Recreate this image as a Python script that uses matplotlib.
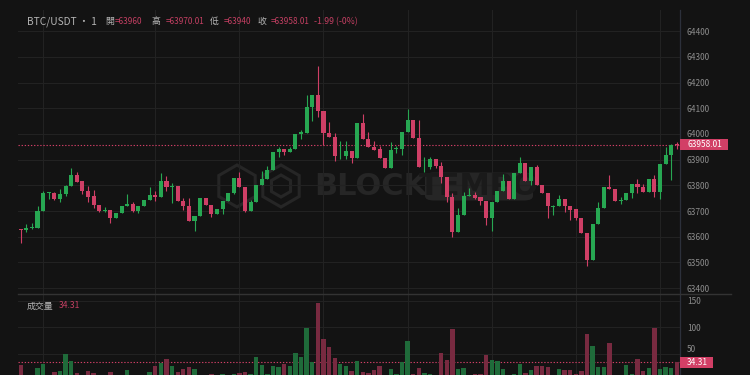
import matplotlib
matplotlib.use("Agg")
import matplotlib.pyplot as plt
from matplotlib.lines import Line2D
from matplotlib.patches import Polygon, Rectangle, FancyBboxPatch
import numpy as np

plt.rcParams["font.family"] = ["Noto Sans CJK TC", "DejaVu Sans"]

# ----------------------------
# Data: BTC/USDT 1-minute candles
# ----------------------------
opens = [
    63630, 63627, 63634, 63636, 63702, 63772, 63772, 63747, 63766, 63798,
    63840, 63816, 63778, 63758, 63725, 63699, 63703, 63674, 63691, 63720,
    63728, 63700, 63721, 63743, 63762, 63754, 63817, 63795, 63797, 63739,
    63720, 63660, 63682, 63750, 63725, 63689, 63710, 63741, 63772, 63830,
    63795, 63699, 63734, 63802, 63825, 63860, 63931, 63941, 63929, 63943,
    64000, 64005, 64106, 64151, 64091, 64003, 63990, 63925, 63914, 63935,
    63905, 64042, 63981, 63951, 63940, 63907, 63867, 63940, 63942, 64009,
    64054, 63986, 63870, 63873, 63902, 63877, 63832, 63755, 63620, 63685,
    63757, 63764, 63754, 63741, 63674, 63737, 63778, 63817, 63747, 63847,
    63886, 63818, 63873, 63803, 63769, 63716, 63720, 63747, 63720, 63707,
    63674, 63616, 63510, 63650, 63711, 63793, 63786, 63739, 63743, 63772,
    63804, 63795, 63773, 63826, 63773, 63882, 63918, 63960,
]
highs = [
    63632, 63650, 63653, 63721, 63779, 63775, 63774, 63785, 63802, 63869,
    63851, 63816, 63798, 63782, 63725, 63715, 63703, 63691, 63720, 63765,
    63735, 63721, 63743, 63793, 63779, 63849, 63837, 63808, 63797, 63752,
    63752, 63682, 63750, 63752, 63725, 63710, 63741, 63772, 63830, 63851,
    63795, 63743, 63802, 63856, 63876, 63931, 63948, 63941, 63948, 64000,
    64014, 64151, 64153, 64265, 64091, 64048, 64003, 63973, 63973, 63935,
    64042, 64078, 64007, 63973, 63953, 63907, 63968, 63952, 64009, 64097,
    64054, 64054, 63909, 63909, 63902, 63891, 63832, 63769, 63713, 63773,
    63789, 63773, 63754, 63741, 63737, 63778, 63843, 63817, 63847, 63909,
    63886, 63873, 63878, 63803, 63769, 63724, 63764, 63747, 63720, 63709,
    63674, 63616, 63650, 63734, 63793, 63839, 63786, 63756, 63772, 63804,
    63824, 63804, 63826, 63840, 63882, 63948, 63960, 63970.01,
]
lows = [
    63575, 63619, 63629, 63636, 63702, 63746, 63745, 63735, 63758, 63798,
    63812, 63765, 63737, 63713, 63697, 63698, 63655, 63674, 63691, 63720,
    63697, 63691, 63721, 63743, 63739, 63754, 63779, 63733, 63739, 63704,
    63660, 63623, 63682, 63725, 63678, 63689, 63689, 63741, 63765, 63795,
    63697, 63699, 63734, 63802, 63825, 63860, 63912, 63918, 63929, 63943,
    63982, 64005, 64051, 64067, 63957, 63987, 63895, 63902, 63902, 63888,
    63905, 63981, 63951, 63938, 63907, 63867, 63867, 63925, 63918, 64009,
    63986, 63873, 63853, 63864, 63869, 63811, 63737, 63598, 63620, 63685,
    63757, 63746, 63724, 63646, 63624, 63737, 63778, 63747, 63747, 63847,
    63818, 63802, 63802, 63769, 63674, 63685, 63720, 63698, 63665, 63665,
    63616, 63488, 63510, 63650, 63711, 63786, 63739, 63727, 63743, 63752,
    63772, 63773, 63773, 63756, 63748, 63882, 63821, 63940,
]
closes = [
    63625, 63636, 63638, 63702, 63772, 63774, 63747, 63766, 63798, 63840,
    63814, 63778, 63756, 63724, 63699, 63704, 63674, 63691, 63720, 63728,
    63700, 63721, 63743, 63763, 63754, 63817, 63795, 63797, 63739, 63721,
    63660, 63682, 63750, 63725, 63689, 63710, 63741, 63772, 63830, 63795,
    63699, 63734, 63802, 63825, 63860, 63931, 63940, 63930, 63943, 64000,
    64009, 64106, 64151, 64091, 64003, 63987, 63914, 63928, 63935, 63905,
    64042, 63981, 63951, 63938, 63907, 63867, 63938, 63944, 64009, 64054,
    63986, 63873, 63873, 63902, 63877, 63832, 63755, 63620, 63685, 63757,
    63764, 63752, 63739, 63674, 63737, 63778, 63817, 63747, 63847, 63886,
    63818, 63873, 63802, 63769, 63720, 63720, 63747, 63720, 63704, 63674,
    63616, 63510, 63650, 63711, 63793, 63786, 63739, 63743, 63772, 63804,
    63793, 63773, 63826, 63773, 63882, 63918, 63957, 63958.01,
]
volumes = [
    29.5, 7, 6, 24.4, 30.7, 8, 16.3, 18.2, 49.5, 36.4,
    13.9, 9, 18.8, 15, 8, 5, 15.7, 9, 7, 20,
    8, 6, 9, 15.7, 27, 33.8, 40.7, 28.1, 16.3, 22,
    25.7, 22, 10, 8, 13.2, 9, 13.2, 7, 13.2, 15,
    16.3, 12.6, 44.5, 30, 13.2, 27.6, 25.1, 31.3, 27, 51.4,
    45, 98.3, 34.5, 146.3, 78.2, 62.6, 43.2, 31.9, 27, 18.2,
    37.5, 17, 13.9, 20, 27.6, 8, 22, 12.6, 34.5, 74.5,
    12, 24.4, 14.4, 12, 8, 52.5, 38.8, 97.6, 21.4, 23.8,
    9, 12.5, 13, 47.6, 38.8, 36.9, 21.4, 9, 12.6, 30.7,
    15, 20, 27, 28.1, 25.7, 8, 21.4, 20, 20, 12.6,
    18.2, 87.6, 65.1, 26.3, 26.3, 71.3, 9, 8, 28.9, 12.6,
    40.1, 18.8, 23.8, 98.3, 21.4, 26.3, 23.8, 34.31,
]
price_ticks = [63400, 63500, 63600, 63700, 63800, 63900, 64000, 64100, 64200, 64300, 64400]
volume_ticks = [50, 100, 150]
time_grid = [4, 24, 39, 54, 69, 84, 99, 114]

last_price = 63958.01
last_volume = 34.31

# ----------------------------
# Styling
# ----------------------------
W, H = 750, 375
BG = "#131313"
GRID = "#222222"
UP = "#27a752"
DOWN = "#cf3f66"
VUP = "#1f6b3a"
VDOWN = "#782a40"
TXT = "#8c8c8c"
AXIS = "#2c303b"
TAG = "#d23f66"


def fx(x):
    return x / W


def fy(y):
    return 1 - y / H


def hexagon(cx, cy, r):
    ang = np.deg2rad(90 + 60 * np.arange(6))
    return [(fx(cx + r * np.cos(a)), fy(cy - r * np.sin(a))) for a in ang]


fig = plt.figure(figsize=(7.5, 3.75), dpi=100, facecolor=BG)
ax = fig.add_axes([fx(18), fy(294), fx(662), (294 - 10) / H])
vax = fig.add_axes([fx(18), 0, fx(662), (H - 294) / H], sharex=ax)

o = np.array(opens)
hi = np.array(highs)
lo = np.array(lows)
c = np.array(closes)
idx = np.arange(len(o))
up = c >= o
colors = np.where(up, UP, DOWN)
vcolors = np.where(up, VUP, VDOWN)

for a in (ax, vax):
    a.set_facecolor(BG)
    for s in a.spines.values():
        s.set_visible(False)
    a.spines["right"].set_visible(True)
    a.spines["right"].set_color(AXIS)
    a.spines["right"].set_linewidth(0.9)
    a.yaxis.tick_right()
    a.tick_params(axis="both", length=0, labelsize=6, labelcolor=TXT, pad=5)
    a.tick_params(axis="x", labelbottom=False)
    a.set_xticks(time_grid)
    a.grid(True, color=GRID, linewidth=0.8)
    a.set_axisbelow(True)

ax.set_xlim(-0.48, 117.58)
ax.set_ylim(63377.4, 64482.5)
ax.set_yticks(price_ticks)
ax.set_yticklabels([str(t) for t in price_ticks])

vax.set_ylim(10.7, 162.7)
vax.set_yticks(volume_ticks)
vax.set_yticklabels([str(t) for t in volume_ticks])
# nudge the "50" label up a touch so it clears the volume tag
vax.get_yticklabels()[0].set_va("bottom")

# watermark (behind candles)
wm = "#262626"
ax.text(fx(314), fy(187), "BLOCK", transform=fig.transFigure, fontsize=22,
        fontweight="bold", color=wm, family="DejaVu Sans", va="center",
        ha="left", zorder=0.5)
ax.add_patch(FancyBboxPatch((fx(428), fy(199)), fx(102), (199 - 174) / H,
                            boxstyle="round,pad=0.004,rounding_size=0.012",
                            transform=fig.transFigure, facecolor=wm,
                            edgecolor="none", zorder=0.5, clip_on=False))
ax.text(fx(479), fy(187), "TEMPO", transform=fig.transFigure, fontsize=22,
        fontweight="bold", color="#1a1a1a", family="DejaVu Sans",
        va="center", ha="center", zorder=0.6)
for cx, r in [(237, 21), (281, 21), (281, 11)]:
    ax.add_patch(Polygon(hexagon(cx, 186, r), closed=True, fill=False,
                         edgecolor=wm, linewidth=2.2, transform=fig.transFigure,
                         zorder=0.5, clip_on=False))

# candles
ax.vlines(idx, lo, hi, colors=colors, linewidth=0.8, zorder=2)
ax.bar(idx, np.maximum(np.abs(c - o), 2.5), bottom=np.minimum(o, c),
       width=0.72, color=colors, linewidth=0, zorder=3)

# volume
vax.bar(idx, volumes, width=0.78, color=vcolors, linewidth=0, zorder=2)

# last price / volume markers
ax.axhline(last_price, color=DOWN, linewidth=0.8, linestyle=(0, (1.2, 1.6)), zorder=1)
vax.axhline(last_volume, color=DOWN, linewidth=0.8, linestyle=(0, (1.2, 1.6)), zorder=1)


def tag(axis, value, text, width_px):
    # value tag on the right-hand scale, positioned in pixels
    y_px = H - axis.transData.transform((0, value))[1]
    fig.add_artist(Rectangle((fx(680), fy(y_px + 5.5)), fx(width_px), 11 / H,
                             transform=fig.transFigure, facecolor=TAG,
                             edgecolor="none", zorder=5))
    fig.text(fx(687), fy(y_px), text, color="white", fontsize=6,
             va="center", ha="left", zorder=6)


tag(ax, last_price, f"{last_price:.2f}", 48)
tag(vax, last_volume, f"{last_volume:.2f}", 33)

# pane separator
fig.add_artist(Line2D([fx(18), fx(731)], [fy(294), fy(294)], color="#333333", linewidth=1))

# header legend
HEAD = "#b4b4b4"
VAL = "#c33f62"
ty = fy(21.5)
fig.text(fx(27), ty, "BTC/USDT · 1", color=HEAD, fontsize=7.3, va="center")
for label, lx, value, vx in [
    ("開", 105, "=63960", 115),
    ("高", 152, "=63970.01", 166),
    ("低", 210, "=63940", 224),
    ("收", 257, "=63958.01", 271),
]:
    fig.text(fx(lx), ty, label, color=HEAD, fontsize=6.4, va="center")
    fig.text(fx(vx), ty, value, color=VAL, fontsize=5.9, va="center")
fig.text(fx(314), ty, "-1.99 (-0%)", color=VAL, fontsize=6.3, va="center")

fig.text(fx(27), fy(306), "成交量", color=HEAD, fontsize=6.4, va="center")
fig.text(fx(59), fy(306), f"{last_volume:.2f}", color=VAL, fontsize=6.2, va="center")

fig.savefig("out.png", dpi=100, facecolor=BG)
